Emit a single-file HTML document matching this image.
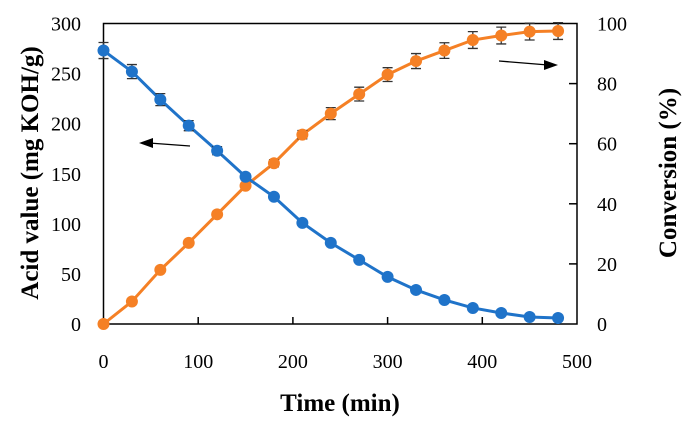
<!DOCTYPE html>
<html><head><meta charset="utf-8"><style>
body{margin:0;background:#fff}
svg text{font-family:"Liberation Serif",serif;fill:#000}
</style></head><body>
<svg width="686" height="422" xmlns="http://www.w3.org/2000/svg" id="c"></svg>
<script>
const times=[0,30,60,90,120,150,180,210,240,270,300,330,360,390,420,450,480];
const acid=[273,252,224,198,173,147,127,101,81,64,47,34,24,16,11,7,6];
const acidErr=[8,7,6,5,4,3,0,0,0,0,0,0,0,0,0,0,0];
const conv=[0,7.5,18,27,36.5,46,53.5,63,70,76.5,83,87.5,91,94.5,96,97.3,97.5];
const convErr=[0,0,0,0,0,0,1.2,1.4,2,2.3,2.3,2.5,2.6,2.8,2.8,2.8,2.8];
const xTicks=[0,100,200,300,400,500];
const yTicks=[0,50,100,150,200,250,300];
const y2Ticks=[0,20,40,60,80,100];
const L=103.5,R=577,T=23.5,B=324;
const sx=v=>L+(R-L)*v/500, sy=v=>B-(B-T)*v/300, sy2=v=>B-(B-T)*v/100;
const svg=document.getElementById('c'),NS="http://www.w3.org/2000/svg";
function mk(t,a,p){const e=document.createElementNS(NS,t);for(const k in a)e.setAttribute(k,a[k]);(p||svg).appendChild(e);return e;}
let e;
e=mk('rect',{x:L,y:T,width:R-L,height:B-T,fill:'none',stroke:'#000','stroke-width':1.5});

xTicks.forEach(v=>{const x=sx(v);
 if(v>0&&v<500){e=mk('line',{x1:x,x2:x,y1:B,y2:B-7,stroke:'#000','stroke-width':1.5});}
 e=mk('text',{x:x,y:B+44,'text-anchor':'middle','font-size':20});e.textContent=v;
 });
yTicks.forEach(v=>{e=mk('text',{x:81,y:sy(v)+7,'text-anchor':'end','font-size':20});e.textContent=v;
 });
y2Ticks.forEach(v=>{const y=sy2(v);
 if(v>0&&v<100){e=mk('line',{x1:R,x2:R-8,y1:y,y2:y,stroke:'#000','stroke-width':1.5});}
 e=mk('text',{x:597,y:y+7,'font-size':20});e.textContent=v;
 });
function series(vals,errs,ys,col,name){
 e=mk('polyline',{points:times.map((t,i)=>sx(t)+','+ys(vals[i])).join(' '),fill:'none',stroke:col,'stroke-width':3});
 
 times.forEach((t,i)=>{const x=sx(t),y=ys(vals[i]);
  if(errs[i]>0){const y1=ys(vals[i]+errs[i]),y2=ys(vals[i]-errs[i]);
   e=mk('path',{d:`M${x},${y1}V${y2}M${x-5},${y1}H${x+5}M${x-5},${y2}H${x+5}`,stroke:'#333','stroke-width':1.3,fill:'none'});
   }
  e=mk('circle',{cx:x,cy:y,r:6,fill:col});
  });
}
series(conv,convErr,sy2,'#f58025','conversion');
series(acid,acidErr,sy,'#1f73c9','acid-value');
function arrow(x1,y1,x2,y2,n){e=mk('line',{x1:x1,y1:y1,x2:x2+(x2>x1?-10:10),y2:y2,stroke:'#000','stroke-width':1.3});
 const d=x2>x1?-1:1;e=mk('polygon',{points:`${x2},${y2} ${x2+14*d},${y2-5} ${x2+14*d},${y2+5}`,fill:'#000'});}
arrow(190,146,139,143,'left-axis-arrow');
arrow(499,61,558,65,'right-axis-arrow');
e=mk('text',{x:0,y:0,transform:'translate(38,173) rotate(-90)','text-anchor':'middle','font-size':25,'font-weight':'bold'});e.textContent='Acid value (mg KOH/g)';

e=mk('text',{x:0,y:0,transform:'translate(676,173) rotate(-90)','text-anchor':'middle','font-size':25,'font-weight':'bold'});e.textContent='Conversion (%)';

e=mk('text',{x:340,y:411,'text-anchor':'middle','font-size':25,'font-weight':'bold'});e.textContent='Time (min)';

</script>
</body></html>
